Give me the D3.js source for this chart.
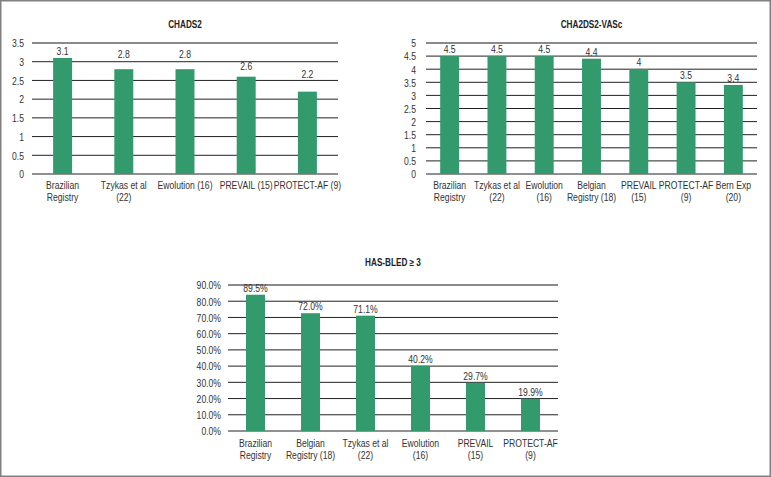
<html>
<head>
<script src="https://d3js.org/d3.v7.min.js"></script>
<style>
  body { margin: 0; background: #fff; }
  svg text { font-family: "Liberation Sans", Arial, sans-serif; fill: #333; }
</style>
</head>
<body>
<svg id="chart" width="771" height="477"></svg>
<script>
// CHADS2
var chadsCats = ["Brazilian\nRegistry", "Tzykas et al\n(22)", "Ewolution (16)", "PREVAIL (15)", "PROTECT-AF (9)"];
var chadsVals = [3.1, 2.8, 2.8, 2.6, 2.2];
var chadsTicks = [0, 0.5, 1, 1.5, 2, 2.5, 3, 3.5];

// CHA2DS2-VASc
var vascCats = ["Brazilian\nRegistry", "Tzykas et al\n(22)", "Ewolution\n(16)", "Belgian\nRegistry (18)", "PREVAIL\n(15)", "PROTECT-AF\n(9)", "Bern Exp\n(20)"];
var vascVals = [4.5, 4.5, 4.5, 4.4, 4, 3.5, 3.4];
var vascTicks = [0, 0.5, 1, 1.5, 2, 2.5, 3, 3.5, 4, 4.5, 5];

// HAS-BLED >= 3 (first bar is drawn shorter than its label in the original)
var hasCats = ["Brazilian\nRegistry", "Belgian\nRegistry (18)", "Tzykas et al\n(22)", "Ewolution\n(16)", "PREVAIL\n(15)", "PROTECT-AF\n(9)"];
var hasBars = [84, 72.6, 71.1, 40.2, 29.7, 19.9];
var hasLabels = ["89.5%", "72.0%", "71.1%", "40.2%", "29.7%", "19.9%"];
var hasTicks = [0, 10, 20, 30, 40, 50, 60, 70, 80, 90];

var svg = d3.select("#chart");
var green = "#329a6c";
var sx = 0.82; // narrow the font like Arial Narrow

// outer frame
svg.append("rect")
  .attr("x", 0.75).attr("y", 0.75)
  .attr("width", 769.5).attr("height", 475.5)
  .attr("fill", "none").attr("stroke", "#808080").attr("stroke-width", 1.5);

function place(x, y) {
  return "translate(" + x + "," + y + ") scale(" + sx + ",1)";
}

function drawChart(o) {
  var g = svg.append("g");
  var x = d3.scaleBand().domain(o.cats).range([o.left, o.right]).paddingInner(o.pad).paddingOuter(o.pad / 2);
  var y = d3.scaleLinear().domain([0, o.max]).range([o.bottom, o.top]);

  g.append("text")
    .attr("transform", place((o.left + o.right) / 2, o.titleY))
    .attr("text-anchor", "middle")
    .style("font-size", "10px").style("font-weight", "bold").style("fill", "#222")
    .text(o.title);

  // gridlines
  g.selectAll(".grid").data(o.ticks).enter().append("line")
    .attr("x1", o.left).attr("x2", o.right)
    .attr("y1", function(d) { return y(d); }).attr("y2", function(d) { return y(d); })
    .attr("stroke", function(d) { return d == o.max ? "#8a8a8a" : "#222"; })
    .attr("stroke-width", function(d) { return d == o.max ? 2 : 1; });

  // y axis labels
  var ax = g.append("g")
    .attr("transform", "translate(" + o.left + ",0)")
    .call(d3.axisLeft(y).tickValues(o.ticks).tickSize(0).tickPadding(o.tickPad).tickFormat(o.fmt));
  ax.select(".domain").remove();
  ax.selectAll("text")
    .attr("x", 0).attr("dy", null).attr("dominant-baseline", "central")
    .attr("transform", "translate(" + (-o.tickPad) + ",0) scale(" + sx + ",1)")
    .style("font-size", "10.5px").style("font-family", null).attr("fill", null);

  g.selectAll(".bar").data(o.vals).enter().append("rect")
    .attr("x", function(d, i) { return x(o.cats[i]); })
    .attr("width", x.bandwidth())
    .attr("y", function(d) { return y(d); })
    .attr("height", function(d) { return o.bottom - y(d); })
    .attr("fill", green);

  g.selectAll(".val").data(o.vals).enter().append("text")
    .attr("transform", function(d, i) {
      var lift = o.lift ? o.lift[i] : 3;
      return place(x(o.cats[i]) + x.bandwidth() / 2, y(d) - lift);
    })
    .attr("text-anchor", "middle")
    .style("font-size", "10.5px")
    .text(function(d, i) { return o.labels ? o.labels[i] : d; });

  var cl = g.selectAll(".cat").data(o.cats).enter().append("text")
    .attr("transform", function(d) { return place(x(d) + x.bandwidth() / 2, o.catY); })
    .attr("text-anchor", "middle")
    .style("font-size", "10.5px");
  cl.each(function(d) {
    var t = d3.select(this);
    d.split("\n").forEach(function(s, k) {
      t.append("tspan").attr("x", 0).attr("dy", k == 0 ? 0 : 12.5).text(s);
    });
  });
}

drawChart({
  title: "CHADS2", titleY: 28, cats: chadsCats, vals: chadsVals, ticks: chadsTicks, max: 3.5,
  left: 32, right: 338, top: 43, bottom: 174, pad: 0.69, tickPad: 8, catY: 189,
  lift: [3, 11, 11, 6.5, 13.5],
  fmt: function(d) { return d; }
});

drawChart({
  title: "CHA2DS2-VASc", titleY: 28, cats: vascCats, vals: vascVals, ticks: vascTicks, max: 5,
  left: 426, right: 757, top: 43, bottom: 174, pad: 0.6, tickPad: 10, catY: 189,
  fmt: function(d) { return d; }
});

drawChart({
  title: "HAS-BLED \u2265 3", titleY: 266, cats: hasCats, vals: hasBars, labels: hasLabels, ticks: hasTicks, max: 90,
  left: 228, right: 558, top: 285, bottom: 431, pad: 0.655, tickPad: 7, catY: 447,
  fmt: function(d) { return d3.format(".1f")(d) + "%"; }
});
</script>
</body>
</html>
